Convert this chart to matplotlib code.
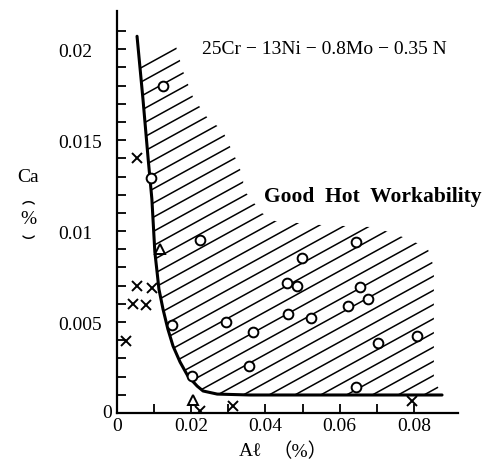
import numpy as np
import matplotlib
matplotlib.use("Agg")
import matplotlib.pyplot as plt
from matplotlib.patches import Polygon

plt.rcParams['font.family'] = ['Liberation Serif', 'DejaVu Serif', 'Noto Sans CJK JP']

# ---- data ----
circle_al = [0.0124, 0.0092, 0.0224, 0.0148, 0.0202, 0.0294, 0.0367, 0.0356, 0.0499, 0.0458,
             0.0485, 0.0461, 0.0523, 0.0644, 0.0655, 0.0677, 0.0623, 0.0704, 0.0809, 0.0644]
circle_ca = [0.0180, 0.0129, 0.0095, 0.00484, 0.00203, 0.0050, 0.00445, 0.00258, 0.00852, 0.00714,
             0.00698, 0.00544, 0.00522, 0.0094, 0.00692, 0.00626, 0.00588, 0.00385, 0.00423, 0.00143]
cross_al = [0.0054, 0.0054, 0.0094, 0.0043, 0.0078, 0.0024, 0.0224, 0.0313, 0.0795]
cross_ca = [0.0140, 0.0070, 0.00687, 0.0060, 0.00593, 0.00396, 0.0001, 0.0004, 0.00066]
tri_al = [0.0116, 0.0205]
tri_ca = [0.0090, 0.00071]

# boundary curve
curve_al = [0.0054, 0.0070, 0.0084, 0.0094, 0.0102, 0.0108, 0.0113, 0.0124, 0.0137, 0.0151,
            0.0170, 0.0191, 0.0216, 0.0232, 0.0270, 0.0358, 0.0876]
curve_ca = [0.02071, 0.01725, 0.01396, 0.01176, 0.00885, 0.00775, 0.00681, 0.00571, 0.00462, 0.00368,
            0.00280, 0.00203, 0.00148, 0.00121, 0.00104, 0.00099, 0.00099]

# outer (upper-right) edge of the hatched region, from bottom-right to top-left
edge_al = [0.0876, 0.0854, 0.0854, 0.0838, 0.0798, 0.0749, 0.0690, 0.0553, 0.0426, 0.0391,
           0.0340, 0.0340, 0.0323, 0.0283, 0.0248, 0.0205, 0.0178, 0.0159]
edge_ca = [0.00099, 0.00187, 0.00802, 0.00901, 0.00945, 0.00984, 0.01022, 0.01033, 0.01055, 0.01099,
           0.01231, 0.01297, 0.01385, 0.01560, 0.01610, 0.01736, 0.01879, 0.02016]

xticks = [0, 0.02, 0.04, 0.06, 0.08]
xtick_labels = ['0', '0.02', '0.04', '0.06', '0.08']
yticks = [0.005, 0.01, 0.015, 0.02]
ytick_labels = ['0.005', '0.01', '0.015', '0.02']

W, H = 499, 464
fig = plt.figure(figsize=(W / 100, H / 100), dpi=100)
ax = fig.add_axes([117 / W, 50 / H, 341 / W, 402 / H])
ax.set_xlim(0, 0.0919)
ax.set_ylim(0, 0.0221)
for s in ['top', 'right']:
    ax.spines[s].set_visible(False)
for s in ['left', 'bottom']:
    ax.spines[s].set_linewidth(1.6)

ax.set_xticks(xticks)
ax.set_xticklabels(xtick_labels, fontsize=14)
ax.set_xticks(np.arange(0.01, 0.09, 0.02), minor=True)
ax.set_yticks(yticks)
ax.set_yticklabels(ytick_labels, fontsize=14)
ax.set_yticks(np.arange(0.001, 0.0215, 0.001), minor=True)
ax.tick_params(axis='both', which='both', direction='in', length=6.5, width=1.3, color='black')
ax.tick_params(axis='x', which='major', pad=3)
ax.tick_params(axis='y', which='major', pad=42.5)
for lbl in ax.get_yticklabels():
    lbl.set_horizontalalignment('left')
fig.text(107 / W, 1 - 414 / H, '0', fontsize=14, ha='center', va='center')

# hatched region
poly_xy = np.column_stack([curve_al + edge_al, curve_ca + edge_ca])
clip = Polygon(poly_xy, closed=True, fill=False, edgecolor='none', transform=ax.transData)
ax.add_patch(clip)
inv = ax.transData.inverted()
slope = 0.55
spacing = 14.2
x0d, x1d = 100, 480
c_top = (H - 49) - slope * 177
for k in range(0, 60):
    c = c_top - k * spacing
    pts = np.array([[x0d, c + slope * x0d], [x1d, c + slope * x1d]])
    d = inv.transform(pts)
    ln, = ax.plot(d[:, 0], d[:, 1], color='black', lw=1.1, solid_capstyle='butt')
    ln.set_clip_path(clip)

ax.plot(curve_al, curve_ca, color='black', lw=2.2, solid_capstyle='round', zorder=4)

ax.plot(circle_al, circle_ca, ls='none', marker='o', ms=7, mfc='white', mec='black', mew=1.4, zorder=5)
ax.plot(cross_al, cross_ca, ls='none', marker='x', ms=6.5, mec='black', mew=1.4, zorder=5)
ax.plot(tri_al, tri_ca, ls='none', marker='^', ms=7.5, mfc='white', mec='black', mew=1.4, zorder=5)

ax.text((324 - 117) / 341, (414 - 50) / 402, '25Cr − 13Ni − 0.8Mo − 0.35 N', transform=ax.transAxes,
        fontsize=14, ha='center', va='center')
ax.text((373 - 117) / 341, (414 - 197) / 402, 'Good  Hot  Workability', transform=ax.transAxes,
        fontsize=15.5, fontweight='bold', ha='center', va='center', zorder=6)

fig.text(28 / W, 1 - 177 / H, 'Ca', fontsize=14, ha='center', va='center')
fig.text(28 / W, 1 - 220 / H, '%', fontsize=14, ha='center', va='center')
fig.text(28 / W, 1 - 199 / H, '︵', fontsize=9.5, fontweight='bold', ha='center', va='center',
         family=['Noto Sans CJK JP'])
fig.text(28 / W, 1 - 242 / H, '︶', fontsize=9.5, fontweight='bold', ha='center', va='center',
         family=['Noto Sans CJK JP'])
fig.text(251 / W, 1 - 452 / H, 'Aℓ', fontsize=14, ha='center', va='center')
fig.text(300 / W, 1 - 452 / H, '（%）', fontsize=14, ha='center', va='center')

fig.savefig('out.png', dpi=100)
